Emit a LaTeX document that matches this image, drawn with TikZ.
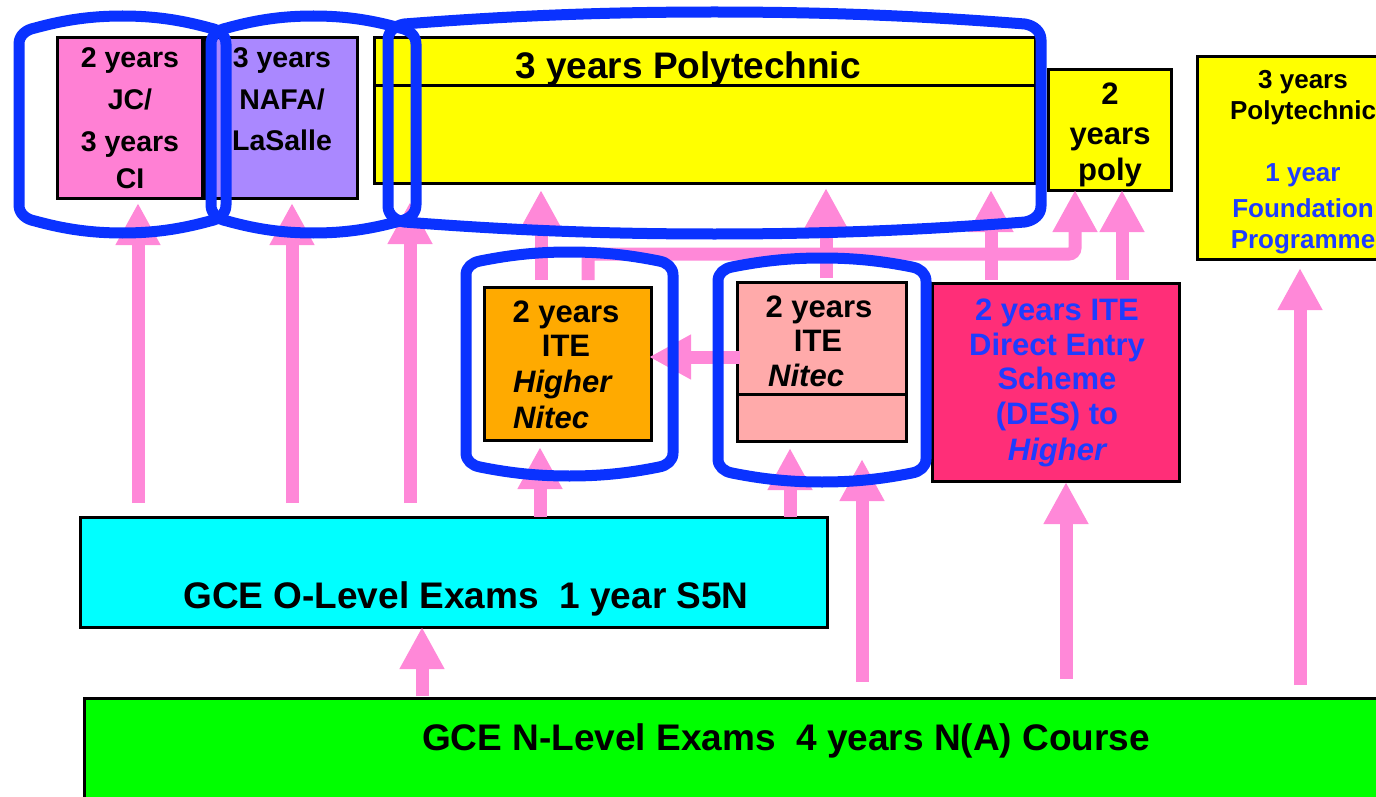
\documentclass[tikz,border=0pt]{standalone}
\usepackage{fontspec}
\setmainfont{Liberation Sans}
\usetikzlibrary{arrows.meta,calc}
\definecolor{jcpink}{RGB}{255,128,212}
\definecolor{nafapurple}{RGB}{170,136,255}
\definecolor{yel}{RGB}{255,255,0}
\definecolor{orng}{RGB}{255,170,0}
\definecolor{nitecpink}{RGB}{255,170,170}
\definecolor{despink}{RGB}{255,46,120}
\definecolor{cyanbox}{RGB}{0,255,255}
\definecolor{greenbox}{RGB}{0,255,0}
\definecolor{arrowpink}{RGB}{255,136,216}
\definecolor{ringblue}{RGB}{10,50,255}
\definecolor{txtblue}{RGB}{30,60,255}
\tikzset{
  box/.style={draw=black, line width=3pt, inner sep=0pt, outer sep=0pt},
  tx/.style={font=\bfseries\fontsize{#1}{#1}\selectfont, inner sep=0pt, anchor=base},
  parrow/.style={draw=arrowpink, line width=13pt, -{Triangle[width=42pt,length=42pt]}},
  ring/.style={draw=ringblue, line width=11pt, line join=round},
}
% x1 x2 ytop ybottom bulge radius
\newcommand\ringdraw[6]{%
  \pgfmathsetmacro\rgM{(#1+#2)/2}%
  \pgfmathsetmacro\rgL{(#2-#1)/2-#6}%
  \pgfmathsetmacro\rgTa{#3+#5+#6}%
  \pgfmathsetmacro\rgTb{#3+#5}%
  \pgfmathsetmacro\rgBa{#4-#5-#6}%
  \pgfmathsetmacro\rgBb{#4-#5}%
  \draw[ring] (#1,\rgBa) -- (#1,\rgTa)
    .. controls (#1,{\rgTb+0.45*#6}) and ({#1+0.45*#6},{\rgTb+0.1*#6}) .. ({#1+#6},\rgTb)
    .. controls ({#1+#6+0.35*\rgL},{#3+0.3*#5}) and ({\rgM-0.35*\rgL},#3) .. (\rgM,#3)
    .. controls ({\rgM+0.35*\rgL},#3) and ({#2-#6-0.35*\rgL},{#3+0.3*#5}) .. ({#2-#6},\rgTb)
    .. controls ({#2-0.45*#6},{\rgTb+0.1*#6}) and (#2,{\rgTb+0.45*#6}) .. (#2,\rgTa)
    -- (#2,\rgBa)
    .. controls (#2,{\rgBb-0.45*#6}) and ({#2-0.45*#6},{\rgBb-0.1*#6}) .. ({#2-#6},\rgBb)
    .. controls ({#2-#6-0.35*\rgL},{#4-0.3*#5}) and ({\rgM+0.35*\rgL},#4) .. (\rgM,#4)
    .. controls ({\rgM-0.35*\rgL},#4) and ({#1+#6+0.35*\rgL},{#4-0.3*#5}) .. ({#1+#6},\rgBb)
    .. controls ({#1+0.45*#6},{\rgBb-0.1*#6}) and (#1,{\rgBb-0.45*#6}) .. (#1,\rgBa) -- cycle;%
}
\begin{document}
\begin{tikzpicture}[x=1pt,y=-1pt]
\useasboundingbox (0,0) rectangle (1376,797);
\fill[white] (0,0) rectangle (1376,797);
\clip (0,0) rectangle (1376,797);

% boxes
\node[box, fill=jcpink, minimum width=145pt, minimum height=160pt] (jc) at (129.5,118) {};
\node[box, fill=nafapurple, minimum width=152pt, minimum height=160pt] (nafa) at (281,118) {};
\node[box, fill=yel, minimum width=661pt, minimum height=145pt] (poly) at (704.5,110.5) {};
\draw[line width=3pt] ($(poly.north west)+(0,48)$) -- ($(poly.north east)+(0,48)$);
\node[box, fill=yel, minimum width=123pt, minimum height=120pt] (tpoly) at (1109.5,130) {};
\node[box, fill=yel, minimum width=223pt, minimum height=202pt] (rbox) at (1308.5,158) {};
\node[box, fill=orng, minimum width=167pt, minimum height=153pt] (hn) at (567.5,363.5) {};
\node[box, fill=nitecpink, minimum width=169pt, minimum height=159pt] (nitec) at (821.5,361.5) {};
\draw[line width=3pt] ($(nitec.north west)+(0,112)$) -- ($(nitec.north east)+(0,112)$);
\node[box, fill=despink, minimum width=247pt, minimum height=198pt] (des) at (1055.5,382) {};
\node[box, fill=cyanbox, minimum width=747pt, minimum height=110pt] (olevel) at (453.5,572) {};
\node[box, fill=greenbox, minimum width=1316pt, minimum height=112pt] (nlevel) at (742,754) {};

% texts
\node[tx=28.5] (jc1) at (130,68) {2 years};
\node[tx=28.5] (jc2) at (130,110) {JC/};
\node[tx=28.5] (jc3) at (130,152) {3 years};
\node[tx=28.5] (jc4) at (130,188) {CI};
\node[tx=28.5] (na1) at (282,68) {3 years};
\node[tx=28.5] (na2) at (282,110) {NAFA/};
\node[tx=28.5] (na3) at (282,150) {LaSalle};
\node[tx=37] (po1) at (688,79) {3 years Polytechnic};
\node[tx=31] (tp1) at (1110,105) {2};
\node[tx=31] (tp2) at (1110,145) {years};
\node[tx=31] (tp3) at (1110,180) {poly};
\node[tx=26] (rb1) at (1303,89) {3 years};
\node[tx=26] (rb2) at (1303,120) {Polytechnic};
\node[tx=26, text=txtblue] (rb3) at (1303,182) {1 year};
\node[tx=26, text=txtblue] (rb4) at (1303,217) {Foundation};
\node[tx=26, text=txtblue] (rb5) at (1303,248) {Programme};
\node[tx=31] (hn1) at (566,322) {2 years};
\node[tx=31] (hn2) at (566,356) {ITE};
\node[tx=31, anchor=base west] (hn3) at (513,392) {\itshape Higher};
\node[tx=31, anchor=base west] (hn4) at (513,428) {\itshape Nitec};
\node[tx=31] (ni1) at (819,317) {2 years};
\node[tx=31] (ni2) at (818,351) {ITE};
\node[tx=31, anchor=base west] (ni3) at (768,386) {\itshape Nitec};
\node[tx=31, text=txtblue] (de1) at (1057,320) {2 years ITE};
\node[tx=31, text=txtblue] (de2) at (1057,355) {Direct Entry};
\node[tx=31, text=txtblue] (de3) at (1057,389) {Scheme};
\node[tx=31, text=txtblue] (de4) at (1057,424) {(DES) to};
\node[tx=31, text=txtblue] (de5) at (1057,460) {\itshape Higher};
\node[tx=37] (ol1) at (466,608) {GCE O-Level Exams\ \ 1 year S5N};
\node[tx=37] (nl1) at (786,750) {GCE N-Level Exams\ \ 4 years N(A) Course};

% arrows
\draw[parrow] ($(olevel.north west)+(58,-14)$) -- ($(jc.south west)+(81,5)$);
\draw[parrow] ($(olevel.north west)+(212,-14)$) -- ($(nafa.south west)+(87,5)$);
\draw[parrow] ($(olevel.north west)+(330,-14)$) -- ($(poly.south west)+(36,19)$);
\draw[parrow] ($(hn.north west)+(57,-7)$) -- ($(poly.south west)+(167,7)$);
\draw[parrow, rounded corners=6pt] ($(hn.north west)+(104,-7)$) -- ++(0,-26) -| ($(tpoly.south west)+(27,0)$);
\draw[parrow] ($(nitec.north west)+(89,-4)$) -- ($(poly.south west)+(452,5)$);
\draw[parrow] ($(des.north west)+(59,-3)$) -- ($(poly.south west)+(617,7)$);
\draw[parrow] ($(des.north west)+(190,-3)$) -- ($(tpoly.south west)+(74,0)$);
\draw[parrow] ($(nitec.west)+(3,-4.5)$) -- ($(hn.east)+(-2,-6.5)$);
\draw[parrow] ($(olevel.north west)+(460,0)$) -- ($(hn.south west)+(56,7)$);
\draw[parrow] ($(olevel.north west)+(710,0)$) -- ($(nitec.south west)+(53,7)$);
\draw[parrow] ($(nlevel.north west)+(778,-16)$) -- ($(nitec.south west)+(125,18)$);
\draw[parrow] ($(nlevel.north west)+(982,-19)$) -- ($(des.south west)+(134,1)$);
\draw[parrow] ($(nlevel.north west)+(1216,-13)$) -- ($(rbox.south west)+(103,9)$);
\draw[parrow] ($(nlevel.north west)+(338,-2)$) -- ($(olevel.south west)+(342,0)$);

% blue rings
\ringdraw{19}{226}{16}{233}{12}{16}
\ringdraw{211}{416}{16}{233}{12}{16}
\ringdraw{388}{1041}{12}{234}{12}{16}
\ringdraw{466}{673}{252}{476}{9}{14}
\ringdraw{718}{926}{258}{482}{9}{14}
\end{tikzpicture}
\end{document}
